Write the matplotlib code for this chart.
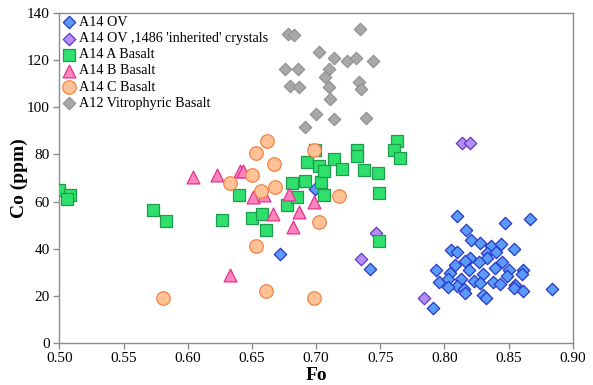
import matplotlib
matplotlib.use("Agg")
import matplotlib.pyplot as plt
from matplotlib.ticker import MultipleLocator, FormatStrFormatter

plt.rcParams['font.family'] = ['Liberation Serif', 'DejaVu Serif']

# A14 OV
ov_fo = [0.810, 0.847, 0.867, 0.817, 0.821, 0.828, 0.836, 0.844, 0.854, 0.805,
         0.810, 0.833, 0.840, 0.820, 0.833, 0.827, 0.845, 0.808, 0.816, 0.819,
         0.839, 0.850, 0.861, 0.793, 0.804, 0.830, 0.849, 0.860, 0.796, 0.803,
         0.813, 0.823, 0.828, 0.838, 0.843, 0.810, 0.803, 0.815, 0.816, 0.855,
         0.854, 0.861, 0.884, 0.830, 0.832, 0.791, 0.699, 0.672, 0.742]
ov_co = [53.8, 51.0, 52.6, 47.9, 43.6, 42.5, 41.1, 41.9, 39.7, 39.4,
         38.7, 38.2, 38.5, 35.9, 35.9, 34.4, 34.4, 33.0, 34.7, 30.9,
         31.6, 30.9, 30.9, 30.9, 29.5, 29.2, 28.3, 29.2, 25.9, 26.9,
         27.1, 26.2, 25.5, 25.9, 24.9, 24.1, 23.5, 22.7, 21.2, 24.5,
         23.1, 22.1, 22.9, 20.3, 18.9, 14.6, 65.3, 37.7, 31.2]

# A14 OV ,1486 'inherited' crystals
inh_fo = [0.814, 0.820, 0.747, 0.735, 0.784]
inh_co = [84.9, 84.9, 46.5, 35.4, 18.9]

# A14 A Basalt
a_fo = [0.500, 0.508, 0.506, 0.573, 0.583, 0.627, 0.640, 0.650, 0.658, 0.661,
        0.677, 0.685, 0.681, 0.691, 0.704, 0.706, 0.693, 0.702, 0.706, 0.699,
        0.714, 0.720, 0.732, 0.732, 0.737, 0.748, 0.749, 0.763, 0.761, 0.765,
        0.749]
a_co = [64.9, 62.8, 61.1, 56.4, 51.8, 52.1, 62.8, 53.0, 54.5, 47.7,
        58.5, 61.8, 67.7, 68.7, 68.1, 62.8, 76.9, 75.1, 73.1, 81.8,
        78.1, 73.8, 81.9, 79.3, 73.4, 72.0, 63.5, 85.8, 81.9, 78.4,
        43.2]

# A14 B Basalt
b_fo = [0.604, 0.623, 0.641, 0.643, 0.651, 0.659, 0.679, 0.666, 0.687, 0.698,
        0.682, 0.633]
b_co = [70.5, 71.3, 73.1, 73.1, 61.8, 62.8, 63.2, 54.7, 55.7, 59.9,
        49.0, 28.8]

# A14 C Basalt
c_fo = [0.581, 0.633, 0.650, 0.653, 0.662, 0.667, 0.668, 0.657, 0.698, 0.718,
        0.702, 0.653, 0.661, 0.698]
c_co = [19.1, 67.7, 71.3, 80.5, 85.8, 75.8, 66.0, 64.6, 81.9, 62.3,
        51.1, 41.3, 22.0, 19.1]

# A12 Vitrophyric Basalt
v_fo = [0.678, 0.683, 0.734, 0.702, 0.714, 0.724, 0.731, 0.744, 0.676, 0.686,
        0.710, 0.707, 0.680, 0.687, 0.710, 0.733, 0.735, 0.711, 0.700, 0.714,
        0.739, 0.691]
v_co = [131.1, 130.8, 133.2, 123.4, 121.1, 119.8, 120.9, 119.7, 116.2, 116.3,
        116.2, 112.8, 109.2, 108.5, 108.5, 110.9, 107.8, 103.6, 97.1, 95.1,
        95.4, 91.8]

fig = plt.figure(figsize=(5.93, 3.85), dpi=100)
ax = fig.add_axes([0.1003, 0.1099, 0.8657, 0.8556])

ax.scatter(ov_fo, ov_co, marker='D', s=40, facecolor='#5a9af8', edgecolor='#2a36c8',
           linewidth=0.9, label='A14 OV', zorder=3)
ax.scatter(inh_fo, inh_co, marker='D', s=40, facecolor='#b88cf4', edgecolor='#5a3cc4',
           linewidth=0.9, label="A14 OV ,1486 'inherited' crystals", zorder=3)
ax.scatter(a_fo, a_co, marker='s', s=85, facecolor='#2fe06c', edgecolor='#1d9e4c',
           linewidth=0.9, label='A14 A Basalt', zorder=3)
ax.scatter(b_fo, b_co, marker='^', s=85, facecolor='#ff85bd', edgecolor='#e0348e',
           linewidth=0.9, label='A14 B Basalt', zorder=3)
ax.scatter(c_fo, c_co, marker='o', s=95, facecolor='#ffc296', edgecolor='#f28446',
           linewidth=0.9, label='A14 C Basalt', zorder=3)
ax.scatter(v_fo, v_co, marker='D', s=40, facecolor='#a8a8a8', edgecolor='#939393',
           linewidth=0.9, label='A12 Vitrophyric Basalt', zorder=3)

ax.set_xlim(0.5, 0.9)
ax.set_ylim(0, 140)
ax.xaxis.set_major_locator(MultipleLocator(0.05))
ax.xaxis.set_major_formatter(FormatStrFormatter('%.2f'))
ax.yaxis.set_major_locator(MultipleLocator(20))

for sp in ax.spines.values():
    sp.set_color('#8c8c8c')
    sp.set_linewidth(1.0)
ax.tick_params(axis='both', direction='out', length=4, width=1.0, color='#8c8c8c',
               labelsize=11, labelcolor='black', pad=3)

ax.set_xlabel('Fo', fontsize=14, fontweight='bold', labelpad=1)
ax.set_ylabel('Co (ppm)', fontsize=14, fontweight='bold', labelpad=-1)

leg = ax.legend(loc='upper left', frameon=False, fontsize=10.2, handletextpad=0.15,
                labelspacing=0.22, borderaxespad=0.05, borderpad=0.15,
                handlelength=1.0, scatterpoints=1)

fig.savefig('out.png', dpi=100)
